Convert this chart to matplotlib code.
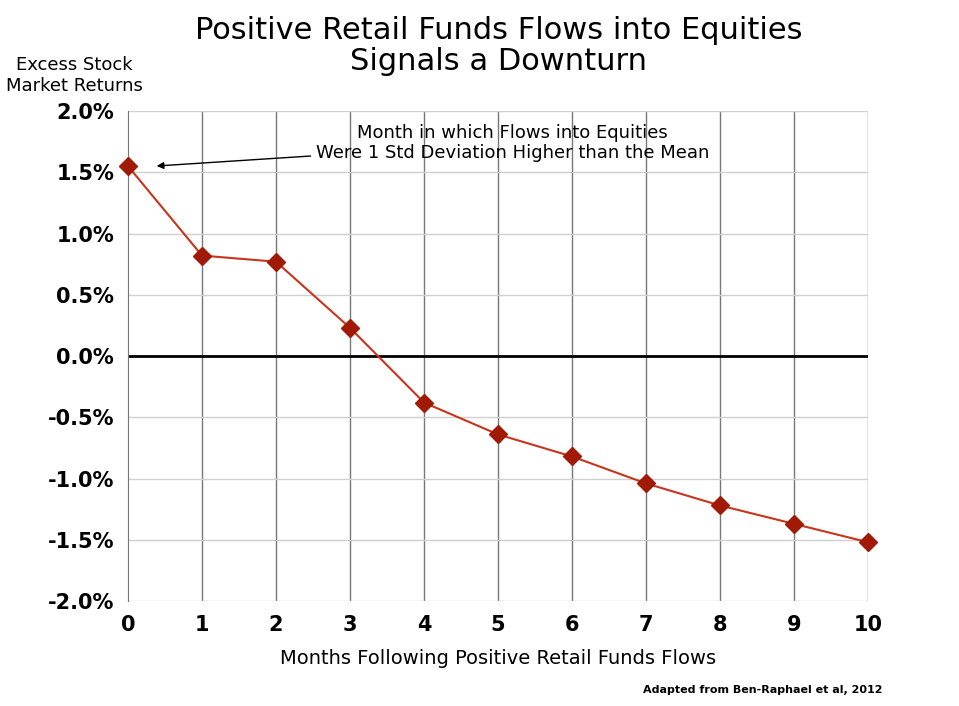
import matplotlib
matplotlib.use("Agg")
import matplotlib.pyplot as plt

months = [0, 1, 2, 3, 4, 5, 6, 7, 8, 9, 10]
returns = [1.55, 0.82, 0.77, 0.23, -0.38, -0.64, -0.82, -1.04, -1.22, -1.37, -1.52]
yticks = [-2.0, -1.5, -1.0, -0.5, 0.0, 0.5, 1.0, 1.5, 2.0]

fig = plt.figure(figsize=(9.59, 7.06), dpi=100)
ax = fig.add_axes([0.1335, 0.1487, 0.7716, 0.694])
ax.set_xlim(0, 10)
ax.set_ylim(-2.0, 2.0)
for x in months[1:]:
    ax.axvline(x, color="#777777", lw=1, zorder=1)
for y in yticks:
    if y != 0:
        ax.axhline(y, color="#d0d0d0", lw=1, zorder=1)
ax.axhline(0, color="black", lw=2, zorder=2)
ax.plot(months, returns, color="#c8341c", lw=1.5, marker="D", markersize=9,
        markerfacecolor="#a11a05", markeredgecolor="#a11a05", zorder=3, clip_on=False)
ax.set_xticks(months)
ax.set_yticks(yticks)
ax.set_yticklabels([f"{v:.1f}%" for v in yticks])
for s in ["top", "right", "bottom"]:
    ax.spines[s].set_visible(False)
ax.spines["left"].set_color("#777777")
ax.tick_params(length=0, labelsize=15, pad=10)
for lab in ax.get_xticklabels() + ax.get_yticklabels():
    lab.set_fontweight("bold")
ax.set_xlabel("Months Following Positive Retail Funds Flows", fontsize=14, labelpad=10)
fig.text(0.52, 0.935, "Positive Retail Funds Flows into Equities\nSignals a Downturn",
         ha="center", va="center", fontsize=22, linespacing=1.1)
fig.text(0.078, 0.893, "Excess Stock\nMarket Returns", ha="center", va="center", fontsize=13)
ax.annotate("Month in which Flows into Equities\nWere 1 Std Deviation Higher than the Mean",
            xy=(0.35, 1.55), xytext=(5.2, 1.74), ha="center", va="center", fontsize=13,
            arrowprops=dict(arrowstyle="-|>", color="black", lw=1, mutation_scale=10))
fig.text(0.92, 0.023, "Adapted from Ben-Raphael et al, 2012", ha="right", va="center",
         fontsize=8, fontweight="bold")
fig.savefig("out.png", dpi=100)
